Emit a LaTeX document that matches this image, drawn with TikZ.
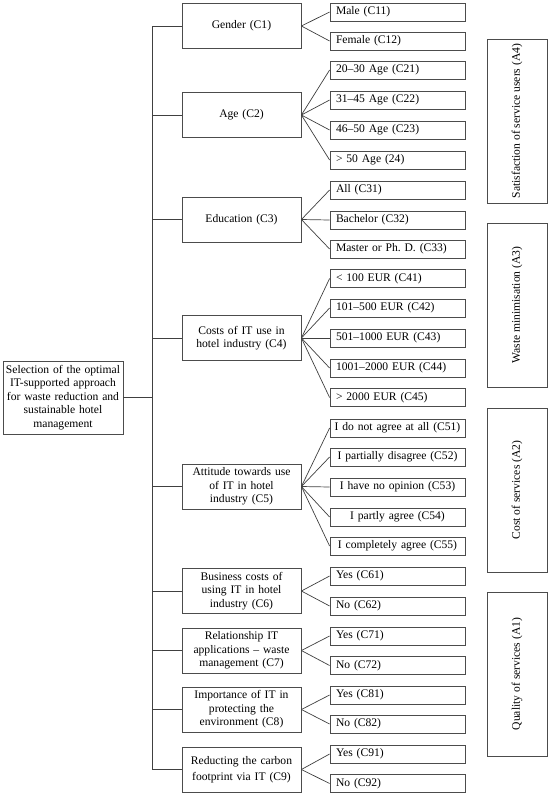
\documentclass[tikz,border=0pt]{standalone}
\usepackage{fontspec}
\setmainfont{Liberation Serif}
\frenchspacing
\begin{document}
\begin{tikzpicture}[x=1pt,y=-1pt,
  every node/.style={font=\fontsize{11.6}{13.4}\selectfont},
  box/.style={draw=black!70, line width=0.8pt},
  mainbox/.style={box, text width=118pt, align=center, inner xsep=1pt, minimum height=73pt},
  catbox/.style={box, text width=115pt, align=center, inner xsep=2pt, minimum height=45pt},
  leaf/.style={box, text width=123pt, align=left, inner xsep=6pt, minimum height=18pt, inner ysep=1pt},
  leafc/.style={box, text width=133pt, align=center, inner xsep=1pt, minimum height=18pt, inner ysep=1pt},
  abox/.style={box, rotate=90, minimum width=164pt, minimum height=60pt},
  conn/.style={draw=black!75, line width=0.7pt}
]
\useasboundingbox (0,0) rectangle (550,796);

% main
\node[mainbox] (main) at (63,397.5) {Selection of the optimal\\IT-supported approach\\for waste reduction and\\sustainable hotel\\management};

% categories
\node[catbox] (c1) at (241.5,26) {Gender (C1)};
\node[catbox] (c2) at (241.5,115) {Age (C2)};
\node[catbox] (c3) at (241.5,219.5) {Education (C3)};
\node[catbox] (c4) at (241.5,338) {Costs of IT use in\\hotel industry (C4)};
\node[catbox] (c5) at (241.5,486.5) {Attitude towards use\\of IT in hotel\\industry (C5)};
\node[catbox] (c6) at (241.5,591) {Business costs of\\using IT in hotel\\industry (C6)};
\node[catbox] (c7) at (241.5,650.5) {Relationship IT\\applications -- waste\\management (C7)};
\node[catbox] (c8) at (241.5,709.5) {Importance of IT in\\protecting the\\environment (C8)};
\node[catbox, font=\fontsize{11.6}{16}\selectfont] (c9) at (241.5,769.5) {Reducting the carbon\\footprint via IT (C9)};

% leaves
\node[leaf] (c11) at (397.5,12) {Male (C11)};
\node[leaf] (c12) at (397.5,41) {Female (C12)};
\node[leaf] (c21) at (397.5,70) {20--30 Age (C21)};
\node[leaf] (c22) at (397.5,100) {31--45 Age (C22)};
\node[leaf] (c23) at (397.5,130) {46--50 Age (C23)};
\node[leaf] (c24) at (397.5,160) {> 50 Age (24)};
\node[leaf] (c31) at (397.5,190) {All (C31)};
\node[leaf] (c32) at (397.5,220) {Bachelor (C32)};
\node[leaf] (c33) at (397.5,249) {Master or Ph. D. (C33)};
\node[leaf] (c41) at (397.5,278.5) {< 100 EUR (C41)};
\node[leaf] (c42) at (397.5,308) {101--500 EUR (C42)};
\node[leaf] (c43) at (397.5,338) {501--1000 EUR (C43)};
\node[leaf] (c44) at (397.5,368) {1001--2000 EUR (C44)};
\node[leaf] (c45) at (397.5,397.5) {> 2000 EUR (C45)};
\node[leafc] (c51) at (397.5,428) {I do not agree at all (C51)};
\node[leafc] (c52) at (397.5,457) {I partially disagree (C52)};
\node[leafc] (c53) at (397.5,487) {I have no opinion (C53)};
\node[leafc] (c54) at (397.5,517) {I partly agree (C54)};
\node[leafc] (c55) at (397.5,546) {I completely agree (C55)};
\node[leaf] (c61) at (397.5,576) {Yes (C61)};
\node[leaf] (c62) at (397.5,606) {No (C62)};
\node[leaf] (c71) at (397.5,636) {Yes (C71)};
\node[leaf] (c72) at (397.5,665.5) {No (C72)};
\node[leaf] (c81) at (397.5,695) {Yes (C81)};
\node[leaf] (c82) at (397.5,724) {No (C82)};
\node[leaf] (c91) at (397.5,754) {Yes (C91)};
\node[leaf] (c92) at (397.5,783.5) {No (C92)};

% right-side boxes
\node[abox] (a4) at (517,121) {Satisfaction of service users (A4)};
\node[abox] (a3) at (517,305) {Waste minimisation (A3)};
\node[abox] (a2) at (517,490) {Cost of services (A2)};
\node[abox] (a1) at (517,674) {Quality of services (A1)};

% trunk
\coordinate (trunk) at (152,0);
\draw[conn] (c1.west -| trunk) -- (c9.west -| trunk);
\draw[conn] (main.east) -- (main.east -| trunk);
\foreach \c in {c1,c2,c3,c4,c5,c6,c7,c8,c9}
  \draw[conn] (\c.west -| trunk) -- (\c.west);

% fans
\foreach \p/\l in {c1/c11,c1/c12,
  c2/c21,c2/c22,c2/c23,c2/c24,
  c3/c31,c3/c32,c3/c33,
  c4/c41,c4/c42,c4/c43,c4/c44,c4/c45,
  c5/c51,c5/c52,c5/c53,c5/c54,c5/c55,
  c6/c61,c6/c62,c7/c71,c7/c72,c8/c81,c8/c82,c9/c91,c9/c92}
  \draw[conn] (\p.east) -- (\l.west);
\end{tikzpicture}
\end{document}
